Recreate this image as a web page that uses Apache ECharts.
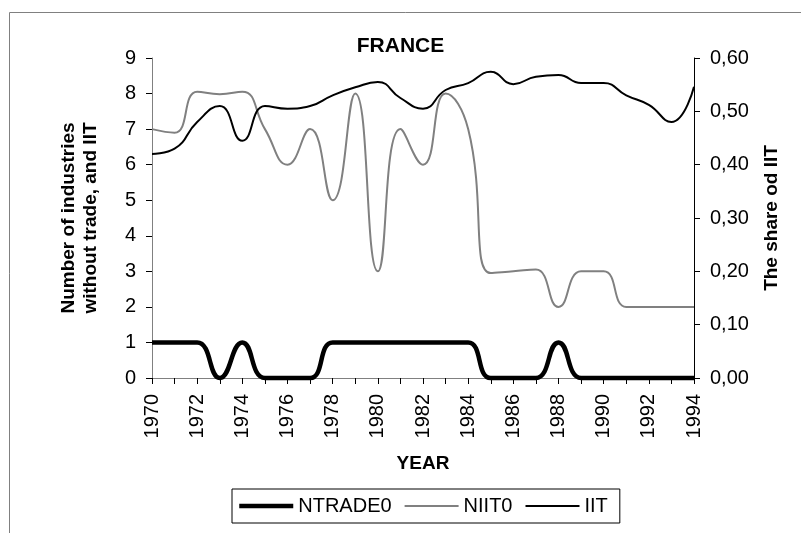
<!DOCTYPE html>
<html>
<head>
<meta charset="utf-8">
<script src="https://cdn.jsdelivr.net/npm/echarts@6/dist/echarts.min.js"></script>
<style>
  html, body { margin: 0; padding: 0; background: #fff; }
  #chart { width: 801px; height: 533px; }
</style>
</head>
<body>
<div id="chart"></div>
<script>
const years = ["1970","1971","1972","1973","1974","1975","1976","1977","1978","1979","1980","1981","1982",
  "1983","1984","1985","1986","1987","1988","1989","1990","1991","1992","1993","1994"]
const ntrade0 = [1,1,1,0,1,0,0,0,1,1,1,1,1,1,1,0,0,0,1,0,0,0,0,0,0]
const niit0 = [7,6.9,8.05,7.98,8.05,7,6,7,5,8,3,7,6,8,7,2.95,3,3.05,2,3,3,2,2,2,2]
const iit = [0.42,0.43,0.48,0.51,0.445,0.51,0.505,0.51,0.53,0.545,0.555,0.525,0.505,
  0.54,0.553,0.574,0.551,0.565,0.568,0.553,0.553,0.53,0.512,0.48,0.546]

const FONT = "Liberation Sans, Arial, sans-serif"

const chart = echarts.init(document.getElementById("chart"))

chart.setOption({
  animation: false,
  textStyle: { fontFamily: FONT, color: "#000" },
  title: {
    text: "FRANCE",
    left: "center",
    top: 31,
    textStyle: { fontSize: 21, fontWeight: "bold", color: "#000", fontFamily: FONT },
  },
  graphic: [{
    type: "rect",
    shape: { x: 9.5, y: 12.5, width: 800, height: 530 },
    style: { fill: "none", stroke: "#808080", lineWidth: 1 },
    silent: true,
  }],
  legend: {
    left: 232,
    top: 489,
    padding: [7, 12, 7, 5],
    itemWidth: 54,
    itemHeight: 10,
    itemGap: 12,
    borderColor: "#000",
    borderWidth: 1,
    itemStyle: { opacity: 0 },
    textStyle: { fontSize: 20, color: "#000", fontFamily: FONT },
    data: [
      { name: "NTRADE0", lineStyle: { width: 4.5, color: "#000" } },
      { name: "NIIT0", lineStyle: { width: 2, color: "#808080" } },
      { name: "IIT", lineStyle: { width: 2, color: "#000" } },
    ],
  },
  grid: { left: 152, right: 107, top: 58, bottom: 155 },
  xAxis: {
    type: "category",
    data: years,
    boundaryGap: false,
    name: "YEAR",
    nameLocation: "middle",
    nameGap: 76,
    nameTextStyle: { fontSize: 19, fontWeight: "bold", color: "#000" },
    axisLine: { lineStyle: { color: "#808080", width: 1 } },
    axisTick: { interval: 0, length: 6, lineStyle: { color: "#000" } },
    axisLabel: { interval: 1, rotate: 90, fontSize: 20, color: "#000", margin: 16 },
    splitLine: { show: false },
  },
  yAxis: [{
    type: "value",
    min: 0,
    max: 9,
    interval: 1,
    name: "Number of industries\nwithout trade, and IIT",
    nameLocation: "middle",
    nameRotate: 90,
    nameGap: 50,
    nameTextStyle: { fontSize: 19, fontWeight: "bold", color: "#000", lineHeight: 22 },
    axisLine: { show: true, lineStyle: { color: "#808080", width: 1 } },
    axisTick: { show: true, length: 6, lineStyle: { color: "#000" } },
    axisLabel: { fontSize: 20, color: "#000", margin: 16 },
    splitLine: { show: false },
  }, {
    type: "value",
    min: 0,
    max: 0.6,
    interval: 0.1,
    position: "right",
    name: "The share od IIT",
    nameLocation: "middle",
    nameRotate: 90,
    nameGap: 68,
    nameTextStyle: { fontSize: 19, fontWeight: "bold", color: "#000" },
    axisLine: { show: true, lineStyle: { color: "#000", width: 1 } },
    axisTick: { show: true, length: 6, lineStyle: { color: "#000" } },
    axisLabel: {
      fontSize: 20, color: "#000", margin: 16,
      formatter: v => v.toFixed(2).replace(".", ","),
    },
    splitLine: { show: false },
  }],
  series: [{
    name: "NTRADE0",
    type: "line",
    data: ntrade0,
    yAxisIndex: 0,
    smooth: 0.5,
    symbol: "none",
    clip: false,
    lineStyle: { color: "#000", width: 4.5 },
    itemStyle: { color: "#000" },
    z: 3,
  }, {
    name: "NIIT0",
    type: "line",
    data: niit0,
    yAxisIndex: 0,
    smooth: 0.5,
    symbol: "none",
    lineStyle: { color: "#808080", width: 2 },
    itemStyle: { color: "#808080" },
    z: 2,
  }, {
    name: "IIT",
    type: "line",
    data: iit,
    yAxisIndex: 1,
    smooth: 0.5,
    symbol: "none",
    lineStyle: { color: "#000", width: 2 },
    itemStyle: { color: "#000" },
    z: 4,
  }],
})
</script>
</body>
</html>
